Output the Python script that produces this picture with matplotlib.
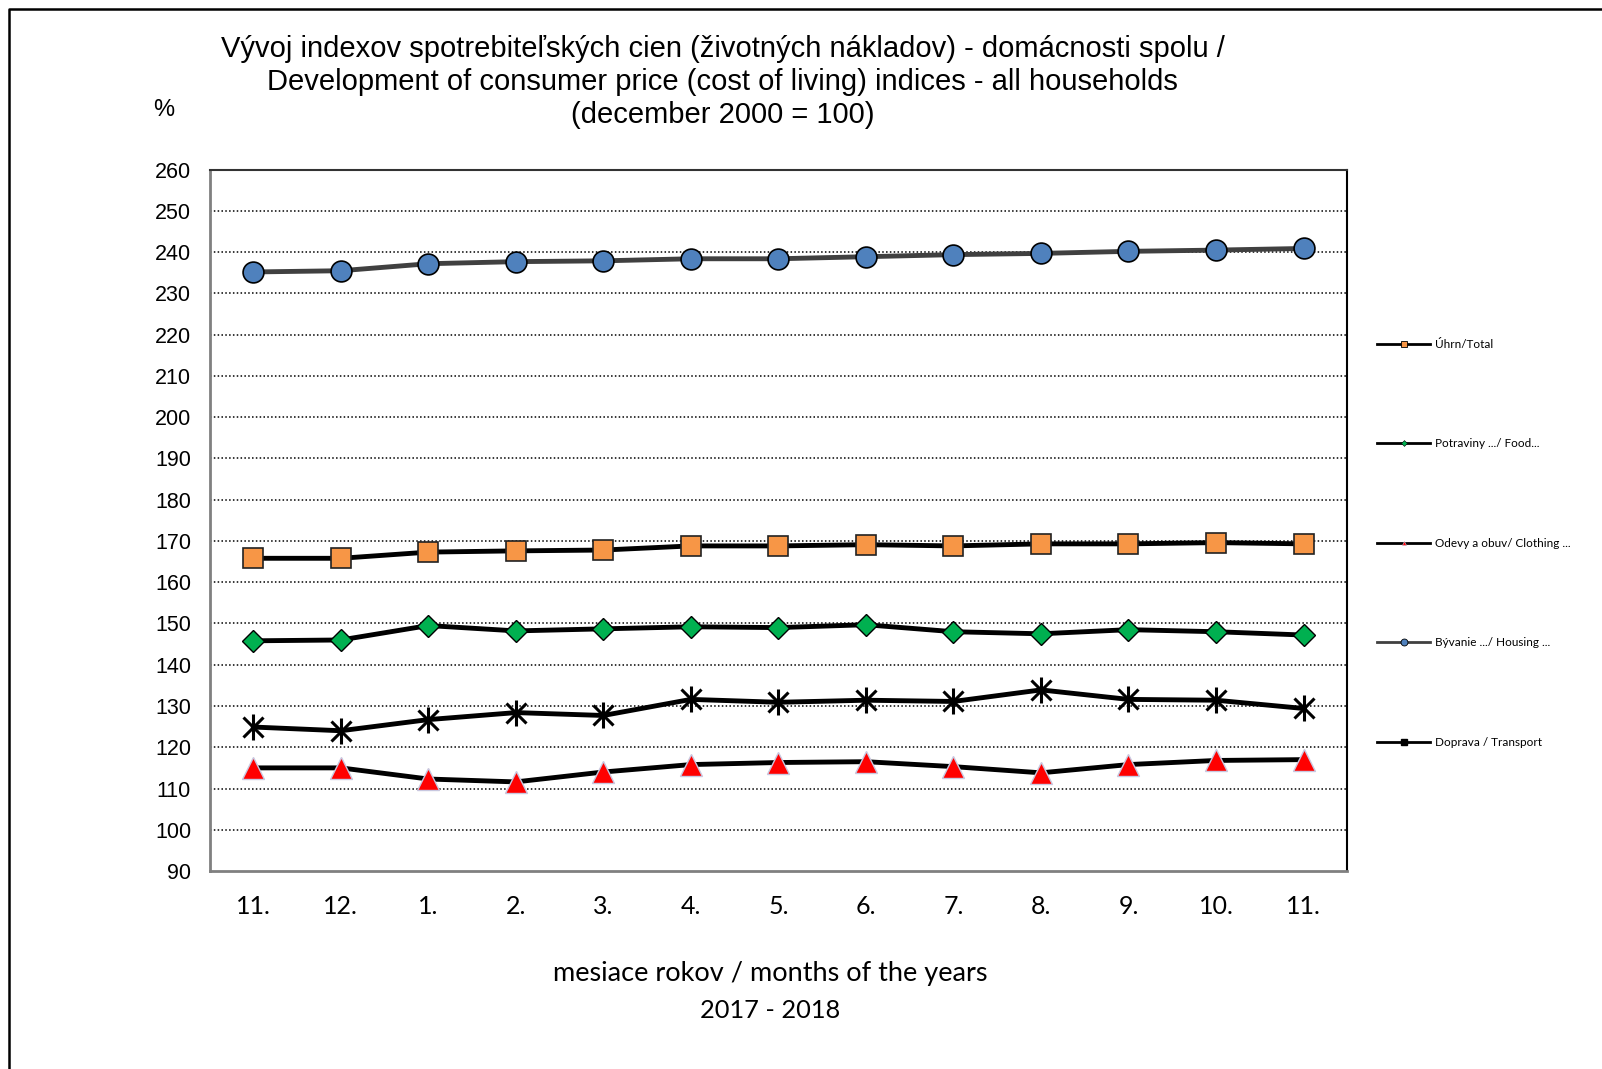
import matplotlib
matplotlib.use('Agg')
import matplotlib.pyplot as plt
from matplotlib.lines import Line2D

plt.rcParams['font.family'] = ['Liberation Sans', 'DejaVu Sans']

# mesiace 11/2017 - 11/2018
months = ['11.', '12.', '1.', '2.', '3.', '4.', '5.', '6.', '7.', '8.', '9.', '10.', '11.']

total = [165.8, 165.8, 167.3, 167.6, 167.8, 168.8, 168.8, 169.1, 168.8, 169.3, 169.3, 169.6, 169.3]
food = [145.8, 146.0, 149.5, 148.2, 148.7, 149.2, 149.0, 149.7, 148.0, 147.5, 148.5, 148.0, 147.2]
clothing = [115.0, 115.0, 112.3, 111.6, 114.0, 115.8, 116.3, 116.5, 115.3, 113.8, 115.8, 116.8, 117.0]
housing = [235.2, 235.5, 237.2, 237.7, 237.9, 238.4, 238.4, 238.9, 239.4, 239.7, 240.2, 240.5, 240.9]
transport = [124.9, 124.0, 126.7, 128.4, 127.7, 131.6, 130.9, 131.4, 131.1, 133.9, 131.6, 131.4, 129.4]

labels = ['Úhrn/Total', 'Potraviny .../ Food...', 'Odevy a obuv/ Clothing ...',
          'Bývanie .../ Housing ...', 'Doprava / Transport']

fig = plt.figure(figsize=(16.02, 10.69), dpi=100)
ax = fig.add_axes([0.1308, 0.1852, 0.841 - 0.1308, 0.8413 - 0.1852])

x = list(range(len(months)))
lw = 3.5

ax.plot(x, housing, color='#404040', lw=lw, marker='o', ms=15,
        mfc='#4F81BD', mec='black', mew=1.2, zorder=3)
ax.plot(x, total, color='black', lw=lw, marker='s', ms=14,
        mfc='#F79646', mec='#222222', mew=1.2, zorder=3)
ax.plot(x, food, color='black', lw=lw, marker='D', ms=11,
        mfc='#00B050', mec='black', mew=1.0, zorder=3)
ax.plot(x, transport, color='black', lw=lw, zorder=3)
ax.plot(x, transport, ls='none', marker='x', ms=14, mec='black', mew=2.2, zorder=4)
ax.plot(x, transport, ls='none', marker='|', ms=19, mec='black', mew=2.2, zorder=4)
ax.plot(x, clothing, color='black', lw=lw, zorder=3)
ax.plot(x, clothing, ls='none', marker='^', ms=16, mfc='#FF0000',
        mec='#C8C8E0', mew=1.0, zorder=4)

ax.set_xlim(-0.5, 12.5)
ax.set_ylim(90, 260)
ax.set_yticks(range(90, 261, 10))
ax.set_xticks(x)
ax.set_xticklabels(months, fontfamily='Lato', fontsize=18)
ax.tick_params(axis='both', length=0)
ax.tick_params(axis='y', labelsize=15.5, pad=13.3)
ax.tick_params(axis='x', pad=17)

for v in range(100, 260, 10):
    ax.axhline(v, color='black', lw=1.1, ls=(0, (1, 1.5)), zorder=1)

ax.spines['left'].set_color('#808080')
ax.spines['bottom'].set_color('#808080')
ax.spines['left'].set_linewidth(2)
ax.spines['bottom'].set_linewidth(2)
ax.spines['top'].set_color('#333333')
ax.spines['right'].set_color('black')
ax.spines['top'].set_linewidth(1.5)
ax.spines['right'].set_linewidth(1.5)

# legenda
handles = [
    Line2D([], [], color='black', lw=2, marker='s', ms=5, mfc='#F79646', mec='black', mew=0.6),
    Line2D([], [], color='black', lw=2, marker='D', ms=3, mfc='#00B050', mec='black', mew=0.4),
    Line2D([], [], color='black', lw=2, marker='^', ms=3, mfc='#FF0000', mec='#C8C8E0', mew=0.4),
    Line2D([], [], color='#404040', lw=2, marker='o', ms=5, mfc='#4F81BD', mec='black', mew=0.6),
    Line2D([], [], color='black', lw=2, marker='s', ms=4, mfc='black', mec='black'),
]
fig.legend(handles, labels, loc='upper left', bbox_to_anchor=(0.853, 0.693),
           frameon=False, prop={'family': 'Lato', 'size': 8.5},
           handlelength=4.5, handletextpad=0.4, labelspacing=7.5)

fig.text(0.451, 0.9235, 'Vývoj indexov spotrebiteľských cien (životných nákladov) - domácnosti spolu /\n'
         'Development of consumer price (cost of living) indices - all households\n'
         '(december 2000 = 100)', ha='center', va='center', fontsize=21, linespacing=1.23)
fig.text(0.102, 0.897, '%', ha='center', va='center', fontsize=17)

fig.text(0.481, 0.0889, 'mesiace rokov / months of the years', ha='center', va='center',
         fontfamily='Lato', fontsize=19.5)
fig.text(0.481, 0.0543, '2017 - 2018', ha='center', va='center',
         fontfamily='Lato', fontsize=18.3)

# ramik okolo grafu
border = Line2D([9 / 1602, 9 / 1602, 1.0], [0.0, 1 - 9 / 1069, 1 - 9 / 1069],
                transform=fig.transFigure, color='black', lw=1.8)
fig.add_artist(border)

plt.savefig('out.png', dpi=100)
print('fin')
